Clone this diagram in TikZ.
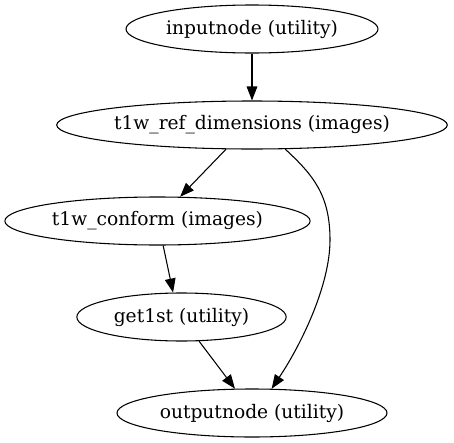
\documentclass[tikz,border=0pt]{standalone}
\usepackage{fontspec}
\setmainfont{DejaVu Serif}
\usetikzlibrary{shapes.geometric,arrows.meta}
\begin{document}
\begin{tikzpicture}[x=0.75pt,y=-0.75pt,
  gvnode/.style={draw,ellipse,line width=0.8pt,inner sep=0pt,minimum height=36pt,font=\fontsize{14}{16}\selectfont},
  gvedge/.style={line width=0.8pt,-{Triangle[length=10.5pt,width=8pt]}}]
\useasboundingbox (0,0) rectangle (454,443);
\node[gvnode,minimum width=189pt] (in) at (252,29) {inputnode (utility)};
\node[gvnode,minimum width=293pt] (ref) at (252,125) {t1w\_ref\_dimensions (images)};
\node[gvnode,minimum width=229pt] (conf) at (157.5,221) {t1w\_conform (images)};
\node[gvnode,minimum width=157pt] (get) at (181.5,317) {get1st (utility)};
\node[gvnode,minimum width=202.5pt] (out) at (252,413) {outputnode (utility)};
\coordinate (bend) at (330,240);
\draw[gvedge] (in) -- (ref);
\draw[gvedge] (ref.-137) -- (conf.47);
\draw[gvedge] (conf.-77) -- (get.109.5);
\draw[gvedge] (get.-54) -- (out.125);
\draw[gvedge] (ref.-36) .. controls +(28,26) and +(0,-45) .. (bend)
  .. controls +(0,45) and +(30,-45) .. (out.51);
\end{tikzpicture}
\end{document}
